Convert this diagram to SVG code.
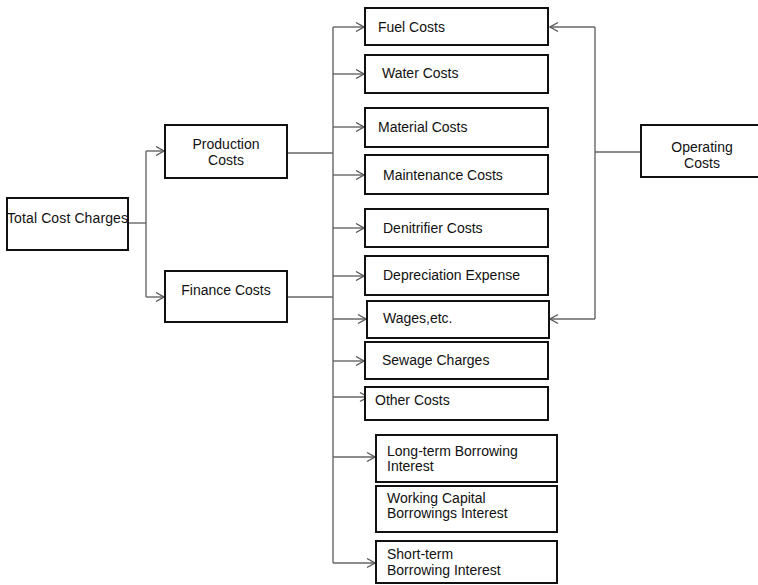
<svg xmlns="http://www.w3.org/2000/svg" width="758" height="585" viewBox="0 0 758 585">
<defs>
<style>
.box{fill:#fff;stroke:#111;stroke-width:2}
.t{font-family:"Liberation Sans",Arial,sans-serif;font-size:14px;fill:#111}
.c{text-anchor:middle}
.ln{fill:none;stroke:#666;stroke-width:1.4}
</style>
<marker id="ah" markerUnits="userSpaceOnUse" markerWidth="12" markerHeight="12" viewBox="0 0 12 12" refX="11" refY="6" orient="auto">
<path d="M3,1.5 L11,6 L3,10.5" fill="none" stroke="#555" stroke-width="1.4"/>
</marker>
</defs>
<rect width="758" height="585" fill="#fff"/>
<g id="connectors">
<path class="ln" d="M128,223 H146"/>
<path class="ln" d="M146,151 V297"/>
<path class="ln" d="M146,151 H164" marker-end="url(#ah)"/>
<path class="ln" d="M146,297 H164" marker-end="url(#ah)"/>
<path class="ln" d="M287,153 H333"/>
<path class="ln" d="M287,297 H333"/>
<path class="ln" d="M333,27 V563"/>
<path class="ln" d="M333,27 H364" marker-end="url(#ah)"/>
<path class="ln" d="M333,74 H364" marker-end="url(#ah)"/>
<path class="ln" d="M333,127 H364" marker-end="url(#ah)"/>
<path class="ln" d="M333,175 H364" marker-end="url(#ah)"/>
<path class="ln" d="M333,228 H364" marker-end="url(#ah)"/>
<path class="ln" d="M333,276 H364" marker-end="url(#ah)"/>
<path class="ln" d="M333,319 H366" marker-end="url(#ah)"/>
<path class="ln" d="M333,361 H364" marker-end="url(#ah)"/>
<path class="ln" d="M333,397 H368" marker-end="url(#ah)"/>
<path class="ln" d="M333,457 H375" marker-end="url(#ah)"/>
<path class="ln" d="M333,563 H375" marker-end="url(#ah)"/>
<path class="ln" d="M641,152 H595"/>
<path class="ln" d="M595,27 V319"/>
<path class="ln" d="M595,27 H550" marker-end="url(#ah)"/>
<path class="ln" d="M595,319 H550" marker-end="url(#ah)"/>
</g>
<g id="total"><rect class="box" x="7" y="198" width="121" height="52"/><text class="t" x="7" y="223" textLength="121">Total Cost Charges</text></g>
<g id="production"><rect class="box" x="165" y="125" width="122" height="53"/><text class="t c" x="226" y="149">Production</text><text class="t c" x="226" y="165">Costs</text></g>
<g id="finance"><rect class="box" x="165" y="271" width="122" height="51"/><text class="t c" x="226" y="295">Finance Costs</text></g>
<g id="fuel"><rect class="box" x="365" y="8" width="183" height="37"/><text class="t" x="378" y="32">Fuel Costs</text></g>
<g id="water"><rect class="box" x="365" y="55" width="183" height="38"/><text class="t" x="382" y="78">Water Costs</text></g>
<g id="material"><rect class="box" x="365" y="108" width="183" height="39"/><text class="t" x="378" y="132">Material Costs</text></g>
<g id="maintenance"><rect class="box" x="365" y="155" width="183" height="39"/><text class="t" x="383" y="180">Maintenance Costs</text></g>
<g id="denitrifier"><rect class="box" x="365" y="209" width="183" height="38"/><text class="t" x="383" y="233">Denitrifier Costs</text></g>
<g id="depreciation"><rect class="box" x="365" y="256" width="183" height="39"/><text class="t" x="383" y="280">Depreciation Expense</text></g>
<g id="wages"><rect class="box" x="367" y="301" width="182" height="37"/><text class="t" x="383" y="323">Wages,etc.</text></g>
<g id="sewage"><rect class="box" x="365" y="342" width="183" height="37"/><text class="t" x="382" y="365">Sewage Charges</text></g>
<g id="other"><rect class="box" x="365" y="387" width="183" height="33"/><text class="t" x="375" y="405">Other Costs</text></g>
<g id="longterm"><rect class="box" x="376" y="435" width="181" height="47"/><text class="t" x="387" y="456">Long-term Borrowing</text><text class="t" x="387" y="471">Interest</text></g>
<g id="working"><rect class="box" x="376" y="486" width="181" height="46"/><text class="t" x="387" y="503">Working Capital</text><text class="t" x="387" y="518">Borrowings Interest</text></g>
<g id="shortterm"><rect class="box" x="376" y="541" width="181" height="42"/><text class="t" x="387" y="559">Short-term</text><text class="t" x="387" y="575">Borrowing Interest</text></g>
<g id="operating"><rect class="box" x="641" y="125" width="125" height="52"/><text class="t c" x="702" y="152">Operating</text><text class="t c" x="702" y="168">Costs</text></g>
</svg>
